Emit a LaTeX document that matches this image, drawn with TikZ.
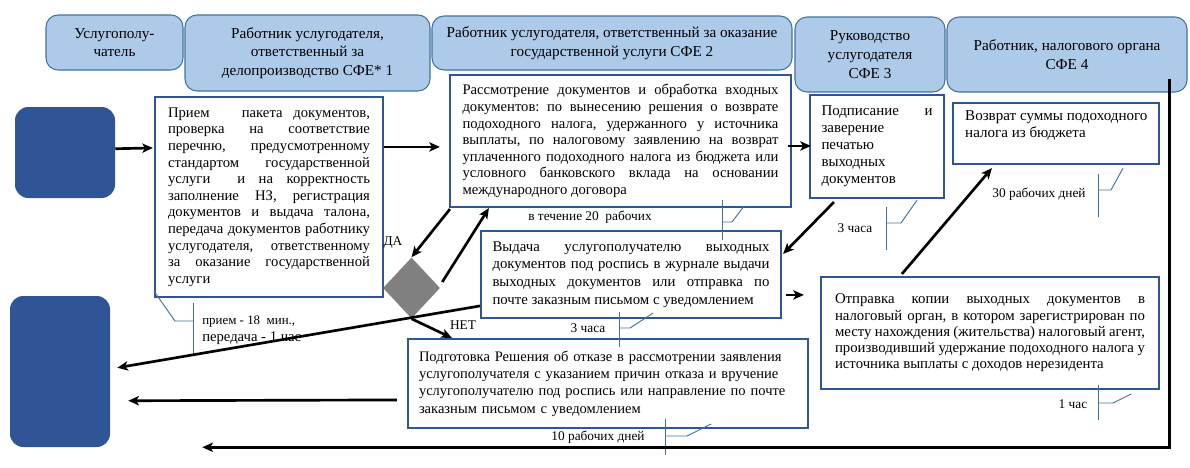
\documentclass[tikz,border=0pt]{standalone}
\usepackage{fontspec}
\setmainfont{Liberation Serif}
\usetikzlibrary{shapes.geometric,arrows.meta,calc}
\definecolor{hdrfill}{RGB}{174,202,233}
\definecolor{hdrline}{RGB}{65,113,156}
\definecolor{boxline}{RGB}{47,85,151}
\definecolor{sqfill}{RGB}{47,85,151}
\definecolor{callout}{RGB}{65,113,156}
\definecolor{diafill}{RGB}{128,128,128}
\begin{document}
\begin{tikzpicture}[x=0.75pt,y=-0.75pt,
  hdr/.style={draw=hdrline, line width=0.8pt, fill=hdrfill, rounded corners=9pt, align=center, inner sep=0pt, font=\fontsize{11.4}{14}\selectfont},
  sq/.style={fill=sqfill, rounded corners=10pt, inner sep=0pt},
  box/.style={draw=boxline, line width=1.6pt, fill=white, inner sep=0pt},
  jbox/.style={box, align=justify, font=\fontsize{11}{12.45}\selectfont},
  arr/.style={draw=black, line width=2pt, -{Stealth[length=8pt,width=7pt,inset=2pt]}},
  co/.style={draw=callout, line width=0.7pt},
  lbl/.style={font=\fontsize{10}{12}\selectfont, inner sep=0pt}]
\useasboundingbox (0,0) rectangle (1190,468);

% headers
\node[hdr, minimum width=102.75pt, minimum height=41.25pt] (H1) at (114.5,42.5) {Услугополу-\\чатель};
\node[hdr, minimum width=183.75pt, minimum height=57pt] (H2) at (307.5,53) {Работник услугодателя,\\ответственный за\\делопроизводство СФЕ* 1};
\node[hdr, minimum width=270pt, minimum height=40.5pt] (H3) at (612,43) {Работник услугодателя, ответственный за оказание\\государственной услуги СФЕ 2};
\node[hdr, minimum width=112.5pt, minimum height=56.25pt] (H4) at (870,54.5) {Руководство\\услугодателя\\СФЕ 3};
\node[hdr, minimum width=180pt, minimum height=56.25pt] (H5) at (1067,54.5) {Работник, налогового органа\\СФЕ 4};

% left squares
\node[sq, minimum width=75pt, minimum height=68.25pt] (sq1) at (65,152.5) {};
\node[sq, minimum width=75pt, minimum height=113.25pt] (sq2) at (60,371.5) {};

% label under B (partly hidden by E)
\node[lbl] (l20) at (590,217) {в течение 20 \ рабочих};

% boxes
\node[jbox, minimum width=171pt, minimum height=150pt, text width=151.5pt] (A) at (269,197) {Прием~~~пакета~документов,\linebreak
проверка~на~соответствие\linebreak
перечню,~предусмотренному\linebreak
стандартом~государственной\linebreak
услуги~~и~на~корректность\linebreak
заполнение~НЗ,~регистрация\linebreak
документов~и~выдача~талона,\linebreak
передача~документов~работнику\linebreak
услугодателя,~ответственному\linebreak
за~оказание~государственной\linebreak
услуги};

\node[jbox, minimum width=255.75pt, minimum height=99pt, text width=237pt] (B) at (620.5,141) {Рассмотрение~документов~и~обработка~входных\linebreak
документов:~по~вынесению~решения~о~возврате\linebreak
подоходного~налога,~удержанного~у~источника\linebreak
выплаты,~по~налоговому~заявлению~на~возврат\linebreak
уплаченного~подоходного~налога~из~бюджета~или\linebreak
условного~банковского~вклада~на~основании\linebreak
международного договора};

\node[jbox, minimum width=100.5pt, minimum height=77.25pt, text width=83.25pt, font=\fontsize{11.2}{12.75}\selectfont] (C) at (877,146.5) {Подписание~и\linebreak
заверение\\
печатью\\
выходных\\
документов};

\node[box, minimum width=154.5pt, minimum height=45.75pt] (D) at (1056,133.5) {};
\node[anchor=north west, inner sep=0pt, align=left, font=\fontsize{11.3}{12.75}\selectfont] (Dt) at ($(D.north west)+(13,8)$) {Возврат суммы подоходного\\налога из бюджета};

\node[jbox, minimum width=225pt, minimum height=65.25pt, text width=207.75pt, font=\fontsize{11.1}{13.3}\selectfont] (E) at (631,274.5) {Выдача~услугополучателю~выходных\linebreak
документов~под~роспись~в~журнале~выдачи\linebreak
выходных~документов~или~отправка~по\linebreak
почте заказным письмом с уведомлением};

\node[jbox, minimum width=253.5pt, minimum height=84pt, text width=232.5pt, font=\fontsize{11.1}{12.2}\selectfont] (F) at (990,333) {Отправка~копии~выходных~документов~в\linebreak
налоговый~орган,~в~котором~зарегистрирован~по\linebreak
месту~нахождения~(жительства)~налоговый~агент,\linebreak
производивший~удержание~подоходного~налога~у\linebreak
источника выплаты с доходов нерезидента};

\node[box, minimum width=300pt, minimum height=66.75pt, text width=283.5pt, align=left, font=\fontsize{10.9}{13}\selectfont] (G) at (608,383.5) {Подготовка Решения об отказе в рассмотрении заявления\\
услугополучателя с указанием причин отказа и вручение\\
услугополучателю под роспись или направление по почте\\
заказным письмом с уведомлением};

% diamond
\node[diamond, fill=diafill, inner sep=0pt, minimum width=42.75pt, minimum height=45.75pt] (dia) at (411.5,288) {};

% labels
\node[lbl] (lC) at (855,228) {3 часа};
\node[lbl] (lD) at (1039,194) {30 рабочих дней};
\node[lbl] (lE) at (588,328) {3 часа};
\node[lbl] (lF) at (1073,404) {1 час};
\node[lbl] (lG) at (598,437) {10 рабочих дней};
\node[lbl, anchor=west, font=\fontsize{9.7}{11}\selectfont] (lA1) at (202,322) {прием - 18 \ мин.,};
\node[lbl, anchor=west, font=\fontsize{11}{13}\selectfont] (lA2) at (202,338) {передача - 1 час};
\node[lbl] (da) at (393,243) {ДА};
\node[lbl] (net) at (463,325) {НЕТ};

% callouts
\draw[co] ($(A.south west)+(0,-7)$) -- (175,321) -- (193,321);
\draw[co] (193,303) -- (193,355);
\draw[co] ($(B.south east)+(-48,-2)$) -- (732,222) -- (722,222);
\draw[co] (722,200) -- (722,240);
\draw[co] ($(C.south east)+(-28,1)$) -- (901,223) -- (886,223);
\draw[co] (886,207) -- (886,250);
\draw[co] ($(D.south east)+(-37,3)$) -- (1111,190) -- (1098,190);
\draw[co] (1098,174) -- (1098,217);
\draw[co] ($(E.south east)+(-129,-6)$) -- (630,328) -- (619,328);
\draw[co] (619,312) -- (619,347);
\draw[co] ($(F.south east)+(-29,4)$) -- (1113,403) -- (1098,403);
\draw[co] (1098,385) -- (1098,420);
\draw[co] ($(G.south east)+(-98,-5)$) -- (687,436) -- (665,436);
\draw[co] (665,419) -- (665,455);

% arrows
\draw[arr] ($(sq1.north east)+(0,42)$) -- ($(A.north west)+(-1,52)$);
\draw[arr] ($(A.north east)+(0,51)$) -- ($(B.north west)+(-9,73)$);
\draw[arr] ($(B.north east)+(-4,72)$) -- ($(C.north west)+(2,52)$);
\draw[arr] ($(B.south west)+(1,1)$) -- (dia.north);
\draw[arr] ($(dia.east)+(2,-6)$) -- ($(B.south west)+(40,0)$);
\draw[arr] ($(C.south west)+(25,3)$) -- ($(E.north east)+(1,24)$);
\draw[arr] ($(E.north east)+(4,65)$) -- ($(F.north west)+(-16,19)$);
\draw[arr] ($(F.north west)+(82,-2)$) -- ($(D.south west)+(40,3)$);
\draw[arr] ($(E.north west)+(0,76)$) -- ($(sq2.north east)+(7,72)$);
\draw[arr] (dia.south) -- ($(G.north west)+(45,0)$);
\draw[arr] ($(G.north west)+(-10,62)$) -- ($(sq2.north east)+(18,105)$);
\draw[arr] ($(H5.south east)+(-18,-14)$) |- ($(sq2.south east)+(92,0)$);
\end{tikzpicture}
\end{document}
